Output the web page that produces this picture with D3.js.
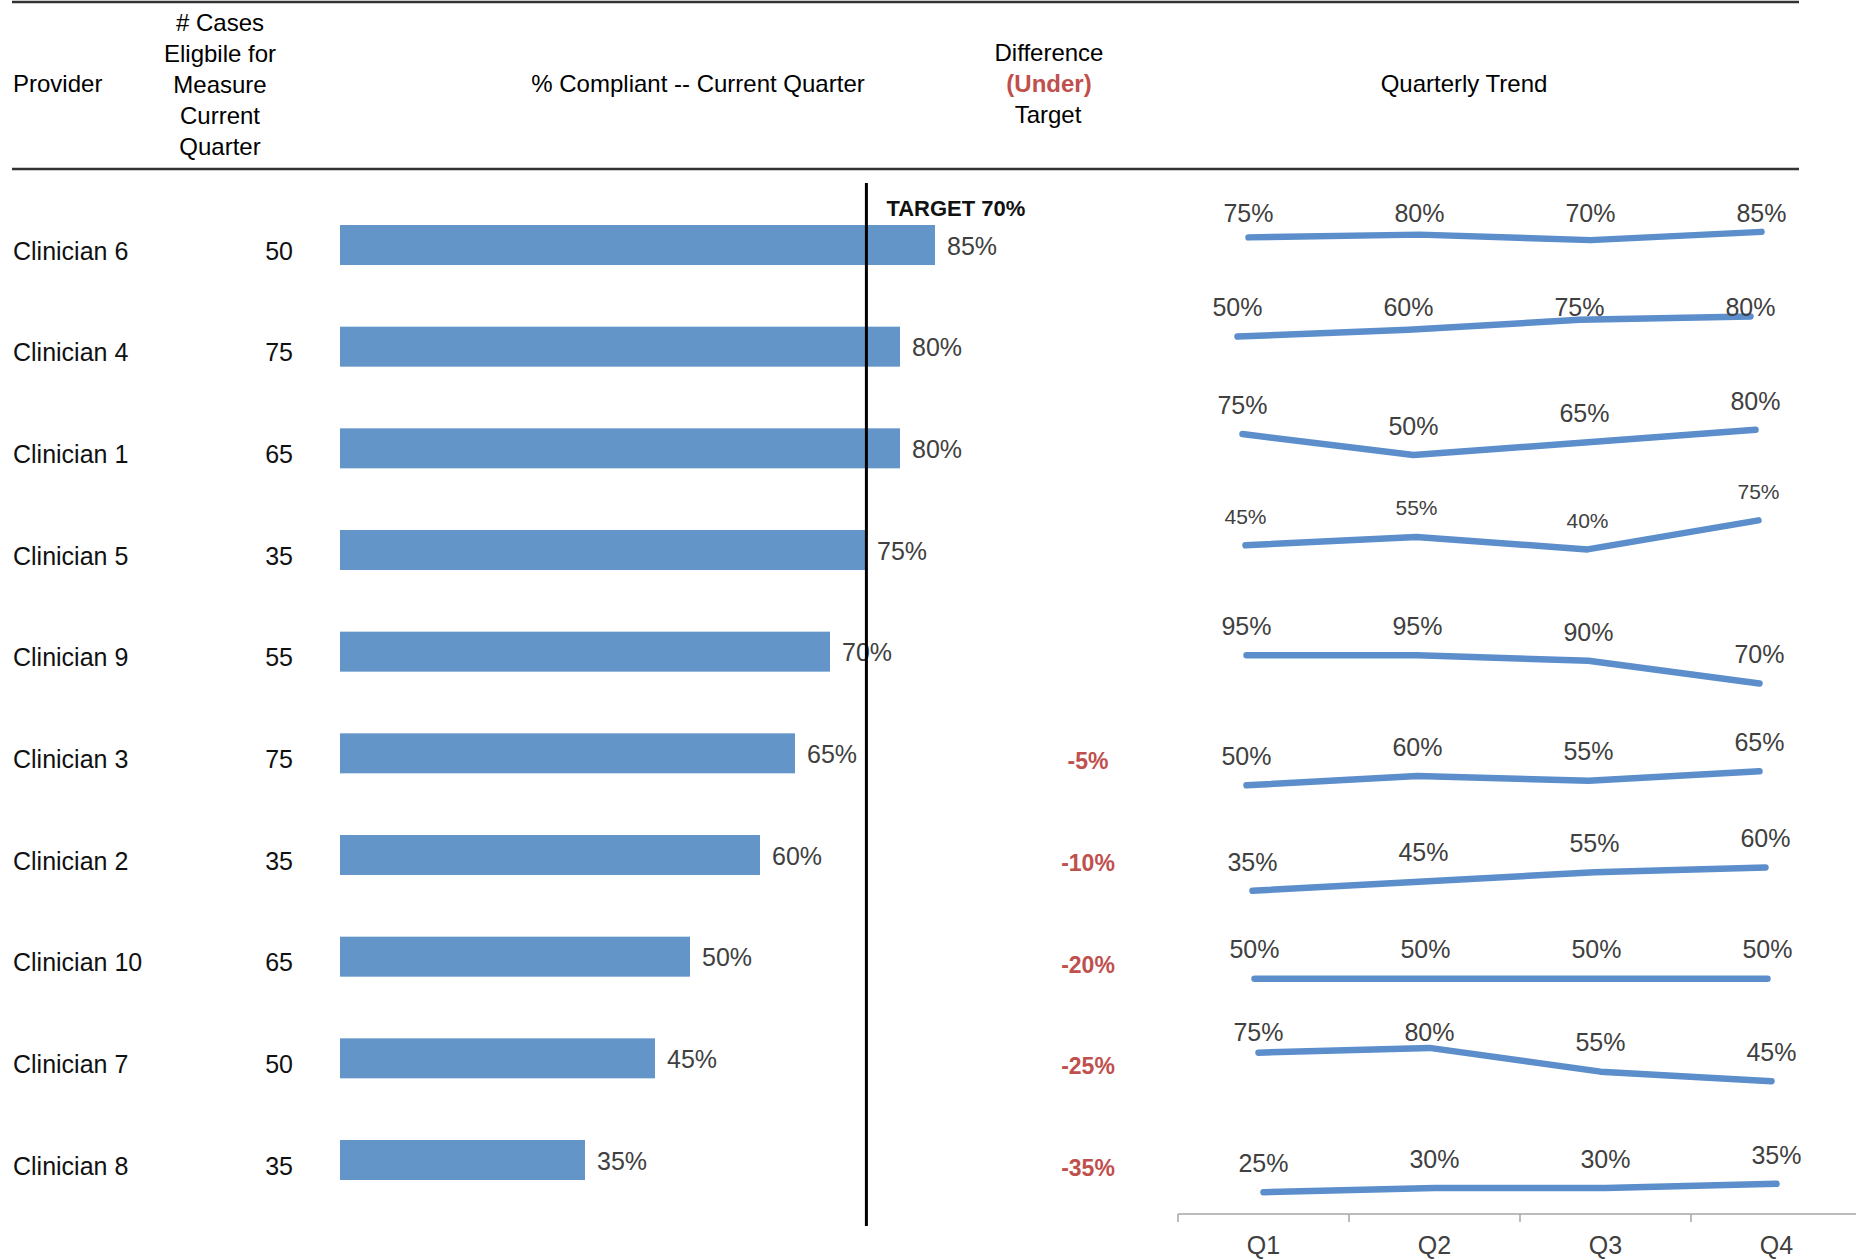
<!DOCTYPE html>
<html><head><meta charset="utf-8">
<script src="https://cdn.jsdelivr.net/npm/d3@7"></script>
<style>
body{margin:0;background:#fff}
svg{display:block}
text{font-family:"Liberation Sans",Arial,Helvetica,sans-serif}
</style>
</head><body>
<svg id="c" width="1856" height="1259"></svg>
<script>
// ---------- data ----------
const providers = ["Clinician 6","Clinician 4","Clinician 1","Clinician 5","Clinician 9","Clinician 3","Clinician 2","Clinician 10","Clinician 7","Clinician 8"];
const casesEligible = [50,75,65,35,55,75,35,65,50,35];
const compliant = [85,80,80,75,70,65,60,50,45,35];
const differenceUnder = [null,null,null,null,null,-5,-10,-20,-25,-35];
const targetPct = 70;
const targetMarkerPct = 75.2; // position of the target rule as drawn in the source
const quarters = ["Q1","Q2","Q3","Q4"];
const trendQ1 = [75,50,75,45,95,50,35,50,75,25];
const trendQ2 = [80,60,50,55,95,60,45,50,80,30];
const trendQ3 = [70,75,65,40,90,55,55,50,55,30];
const trendQ4 = [85,80,80,75,70,65,60,50,45,35];
const headerCases = ["# Cases","Eligbile for","Measure","Current","Quarter"];

// ---------- layout (per mini-chart placement) ----------
const trendDx = [-15,-26,-21,-18,-17,-17,-11,-9,-5,0];
const trendDy = [-9,-21,-8,-12,12,25,23,22,5,28];
const trendK  = [0.55,0.67,0.84,0.83,1.13,0.93,0.93,0.85,0.95,0.83];
const labelClamp = [-32,-39,null,null,null,null,null,null,-26,null]; // label ceiling relative to row centre
const FONT_MAIN = 25, FONT_HEAD = 24, FONT_VAL = 25;
const BAR = "#6395c9", LINE = "#5b8ecb", RED = "#c0504d", GREY = "#404040";

const svg = d3.select("#c");
const rowY = d3.scalePoint().domain(providers).range([245,1160]);
const x = d3.scaleLinear().domain([0,100]).range([340,1040]);
const barH = 40;

// rules
svg.append("line").attr("x1",12).attr("x2",1799).attr("y1",2).attr("y2",2)
  .attr("stroke","#333").attr("stroke-width",2.5);
svg.append("line").attr("x1",12).attr("x2",1799).attr("y1",169).attr("y2",169)
  .attr("stroke","#333").attr("stroke-width",2.5);

// header
const hd = svg.append("g").attr("font-size",FONT_HEAD).attr("fill","#000");
hd.append("text").attr("x",13).attr("y",84).attr("dy","0.35em").text("Provider");
hd.selectAll("text.hc").data(headerCases).join("text").attr("class","hc")
  .attr("x",220).attr("y",(d,i)=>23+i*31).attr("dy","0.35em").attr("text-anchor","middle").text(d=>d);
hd.append("text").attr("x",698).attr("y",84).attr("dy","0.35em").attr("text-anchor","middle").text("% Compliant -- Current Quarter");
hd.append("text").attr("x",1049).attr("y",53).attr("dy","0.35em").attr("text-anchor","middle").text("Difference");
hd.append("text").attr("x",1049).attr("y",84).attr("dy","0.35em").attr("text-anchor","middle")
  .attr("font-weight","bold").attr("fill",RED).text("(Under)");
hd.append("text").attr("x",1048).attr("y",115).attr("dy","0.35em").attr("text-anchor","middle").text("Target");
hd.append("text").attr("x",1464).attr("y",84).attr("dy","0.35em").attr("text-anchor","middle").text("Quarterly Trend");

// provider + cases
svg.append("g").selectAll("text").data(providers).join("text")
  .attr("x",13).attr("y",d=>rowY(d)+6).attr("dy","0.35em")
  .attr("font-size",FONT_MAIN).attr("fill","#111").text(d=>d);
svg.append("g").selectAll("text").data(casesEligible).join("text")
  .attr("x",293).attr("y",(d,i)=>rowY(providers[i])+6).attr("dy","0.35em")
  .attr("text-anchor","end").attr("font-size",FONT_MAIN).attr("fill","#111").text(d=>d);

// bars
svg.append("g").selectAll("rect").data(compliant).join("rect")
  .attr("x",x(0)).attr("y",(d,i)=>rowY(providers[i])-barH/2)
  .attr("width",d=>x(d)-x(0)).attr("height",barH).attr("fill",BAR);
svg.append("g").selectAll("text").data(compliant).join("text")
  .attr("x",d=>x(d)+12).attr("y",(d,i)=>rowY(providers[i])+1).attr("dy","0.35em")
  .attr("font-size",FONT_VAL).attr("fill",GREY).text(d=>d+"%");

// target rule
const tx = x(targetMarkerPct);
svg.append("line").attr("x1",tx).attr("x2",tx).attr("y1",183).attr("y2",1226)
  .attr("stroke","#000").attr("stroke-width",3);
svg.append("text").attr("x",tx+20).attr("y",208).attr("dy","0.35em")
  .attr("font-size",22).attr("font-weight","bold").attr("fill","#111").text("TARGET "+targetPct+"%");

// difference
svg.append("g").selectAll("text").data(differenceUnder).join("text")
  .attr("x",1088).attr("y",(d,i)=>rowY(providers[i])+8).attr("dy","0.35em")
  .attr("text-anchor","middle").attr("font-size",23).attr("font-weight","bold").attr("fill",RED)
  .text(d=>d==null?"":d+"%");

// quarterly trend
const xq = d3.scaleBand().domain(quarters).range([1178,1862]);
const qc = q => xq(q)+xq.bandwidth()/2;
const trendG = svg.append("g");
providers.forEach((p,i)=>{
  const vals = [trendQ1[i],trendQ2[i],trendQ3[i],trendQ4[i]];
  const m = d3.mean(vals);
  const cy = rowY(p)+trendDy[i];
  const k = trendK[i];
  const y = d3.scaleLinear().domain([m-50,m+50]).range([cy+50*k, cy-50*k]);
  const pts = vals.map((v,j)=>({q:quarters[j],v}));
  const line = d3.line().x(d=>qc(d.q)+trendDx[i]).y(d=>y(d.v));
  trendG.append("path").datum(pts).attr("d",line).attr("fill","none")
    .attr("stroke",LINE).attr("stroke-width",6.5).attr("stroke-linecap","round").attr("stroke-linejoin","round");
  const ceil = labelClamp[i]==null ? -Infinity : rowY(p)+labelClamp[i];
  trendG.append("g").selectAll("text").data(pts).join("text")
    .attr("x",d=>qc(d.q)+trendDx[i]).attr("y",d=>Math.max(y(d.v)-29, ceil))
    .attr("dy","0.35em")
    .attr("text-anchor","middle").attr("font-size",i===3?21:FONT_VAL).attr("fill",GREY)
    .text(d=>d.v+"%");
});

// quarter axis
const ax = svg.append("g");
ax.append("line").attr("x1",1178).attr("x2",1856).attr("y1",1214).attr("y2",1214)
  .attr("stroke","#a6a6a6").attr("stroke-width",1.5);
ax.selectAll("line.t").data(quarters).join("line").attr("class","t")
  .attr("x1",d=>xq(d)).attr("x2",d=>xq(d)).attr("y1",1214).attr("y2",1222)
  .attr("stroke","#a6a6a6").attr("stroke-width",1.5);
ax.selectAll("text").data(quarters).join("text")
  .attr("x",d=>qc(d)).attr("y",1245).attr("dy","0.35em").attr("text-anchor","middle")
  .attr("font-size",FONT_VAL).attr("fill",GREY).text(d=>d);
</script>
</body></html>
